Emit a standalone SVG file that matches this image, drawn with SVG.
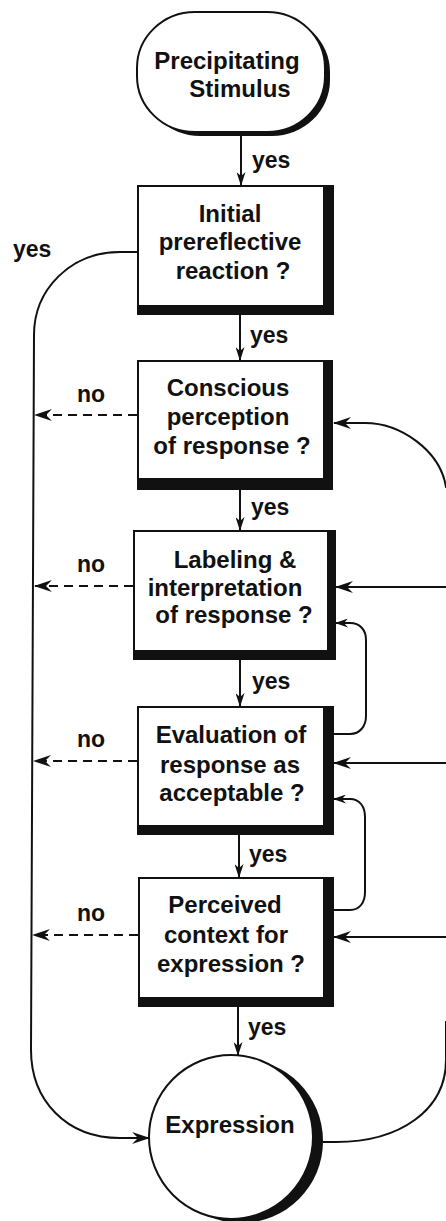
<svg xmlns="http://www.w3.org/2000/svg" width="446" height="1221" viewBox="0 0 446 1221">
<style>
.t{font-family:"Liberation Sans",Arial,sans-serif;font-weight:bold;font-size:24px;fill:#111;text-anchor:middle}
.l{font-family:"Liberation Sans",Arial,sans-serif;font-weight:bold;font-size:23px;fill:#111}
.c{fill:none;stroke:#111;stroke-width:2}
.d{fill:none;stroke:#111;stroke-width:2;stroke-dasharray:9 6}
.sh{fill:#111}
.wh{fill:#fff}
</style>
<defs>
<marker id="ah" viewBox="0 0 18 12" markerWidth="18" markerHeight="12" refX="17" refY="6" orient="auto" markerUnits="userSpaceOnUse"><path d="M0,0 L18,6 L0,12 L6,6 Z" fill="#111"/></marker>
<marker id="ad" viewBox="0 0 14 9" markerWidth="14" markerHeight="9" refX="13" refY="4.5" orient="auto" markerUnits="userSpaceOnUse"><path d="M0,0 L14,4.5 L0,9 L4,4.5 Z" fill="#111"/></marker>
<marker id="as" viewBox="0 0 13 9" markerWidth="13" markerHeight="9" refX="12" refY="4.5" orient="auto" markerUnits="userSpaceOnUse"><path d="M0,0 L13,4.5 L0,9 L4,4.5 Z" fill="#111"/></marker>
</defs>
<rect width="446" height="1221" fill="#fff"/>

<g id="connectors">
  <line class="c" x1="241" y1="134" x2="241" y2="185" marker-end="url(#ad)"/>
  <line class="c" x1="240" y1="315" x2="240" y2="360" marker-end="url(#ad)"/>
  <line class="c" x1="240" y1="490" x2="240" y2="530" marker-end="url(#ad)"/>
  <line class="c" x1="240" y1="660" x2="240" y2="706" marker-end="url(#ad)"/>
  <line class="c" x1="239" y1="835" x2="239" y2="877" marker-end="url(#ad)"/>
  <line class="c" x1="238" y1="1007" x2="238" y2="1055" marker-end="url(#ad)"/>
  <path class="c" d="M137,252 L120,252 C70,252 34,290 34,335 L31,1050 C31,1100 66,1138 120,1138 L149,1138" marker-end="url(#ah)"/>
  <line class="d" x1="137" y1="415" x2="35" y2="415" marker-end="url(#ah)"/>
  <line class="d" x1="133" y1="586" x2="35" y2="586" marker-end="url(#ah)"/>
  <line class="d" x1="137" y1="761" x2="34" y2="761" marker-end="url(#ah)"/>
  <line class="d" x1="138" y1="935" x2="33" y2="935" marker-end="url(#ah)"/>
  <path class="c" d="M313,1142 L336,1142 C400,1142 446,1110 446,1060 L446,1022 L448,1022 L448,487 L446,487 C440,450 400,423 365,423 L334,423" marker-end="url(#ah)"/>
  <line class="c" x1="448" y1="587" x2="336" y2="587" marker-end="url(#ah)"/>
  <line class="c" x1="448" y1="763" x2="334" y2="763" marker-end="url(#ah)"/>
  <line class="c" x1="448" y1="937" x2="334" y2="937" marker-end="url(#ah)"/>
  <path class="c" d="M334,734 L350,734 C360,734 366,726 366,716 L366,640 C366,630 360,623 350,623 L336,623" marker-end="url(#as)"/>
  <path class="c" d="M334,910 L350,910 C360,910 365,902 365,892 L365,817 C365,807 360,799 350,799 L334,799" marker-end="url(#as)"/>
</g>

<g id="labels">
  <text class="l" x="252" y="168">yes</text>
  <text class="l" x="250" y="343">yes</text>
  <text class="l" x="251" y="515">yes</text>
  <text class="l" x="252" y="689">yes</text>
  <text class="l" x="249" y="862">yes</text>
  <text class="l" x="248" y="1035">yes</text>
  <text class="l" x="13" y="257">yes</text>
  <text class="l" x="77" y="402">no</text>
  <text class="l" x="77" y="572">no</text>
  <text class="l" x="77" y="747">no</text>
  <text class="l" x="77" y="921">no</text>
</g>

<g id="start">
  <rect class="sh" x="142" y="16" width="188" height="120" rx="58" ry="56"/>
  <rect x="137" y="12" width="188" height="120" rx="58" ry="56" fill="#fff" stroke="#111" stroke-width="2"/>
  <text class="t" x="227" y="69">Precipitating</text>
  <text class="t" x="240" y="97">Stimulus</text>
</g>

<g id="initial">
  <rect class="sh" x="137" y="185" width="197" height="130"/>
  <rect class="wh" x="139" y="187" width="184" height="118"/>
  <text class="t" x="230" y="222">Initial</text>
  <text class="t" x="230" y="250">prereflective</text>
  <text class="t" x="233" y="279">reaction ?</text>
</g>

<g id="conscious">
  <rect class="sh" x="137" y="360" width="196" height="130"/>
  <rect class="wh" x="139" y="362" width="184" height="116"/>
  <text class="t" x="228" y="396">Conscious</text>
  <text class="t" x="228" y="425">perception</text>
  <text class="t" x="232" y="454">of response ?</text>
</g>

<g id="labeling">
  <rect class="sh" x="133" y="530" width="203" height="130"/>
  <rect class="wh" x="135" y="532" width="192" height="118"/>
  <text class="t" x="235" y="568">Labeling &amp;</text>
  <text class="t" x="225" y="596">interpretation</text>
  <text class="t" x="234" y="623">of response ?</text>
</g>

<g id="evaluation">
  <rect class="sh" x="137" y="706" width="197" height="129"/>
  <rect class="wh" x="139" y="708" width="184" height="117"/>
  <text class="t" x="231" y="743">Evaluation of</text>
  <text class="t" x="230" y="773">response as</text>
  <text class="t" x="232" y="801">acceptable ?</text>
</g>

<g id="perceived">
  <rect class="sh" x="138" y="877" width="196" height="130"/>
  <rect class="wh" x="140" y="879" width="183" height="118"/>
  <text class="t" x="225" y="913">Perceived</text>
  <text class="t" x="226" y="943">context for</text>
  <text class="t" x="231" y="972">expression ?</text>
</g>

<g id="expression">
  <circle class="sh" cx="241" cy="1141" r="82"/>
  <circle cx="231" cy="1137" r="82" fill="#fff" stroke="#111" stroke-width="2"/>
  <text class="t" x="230" y="1133">Expression</text>
</g>
</svg>
